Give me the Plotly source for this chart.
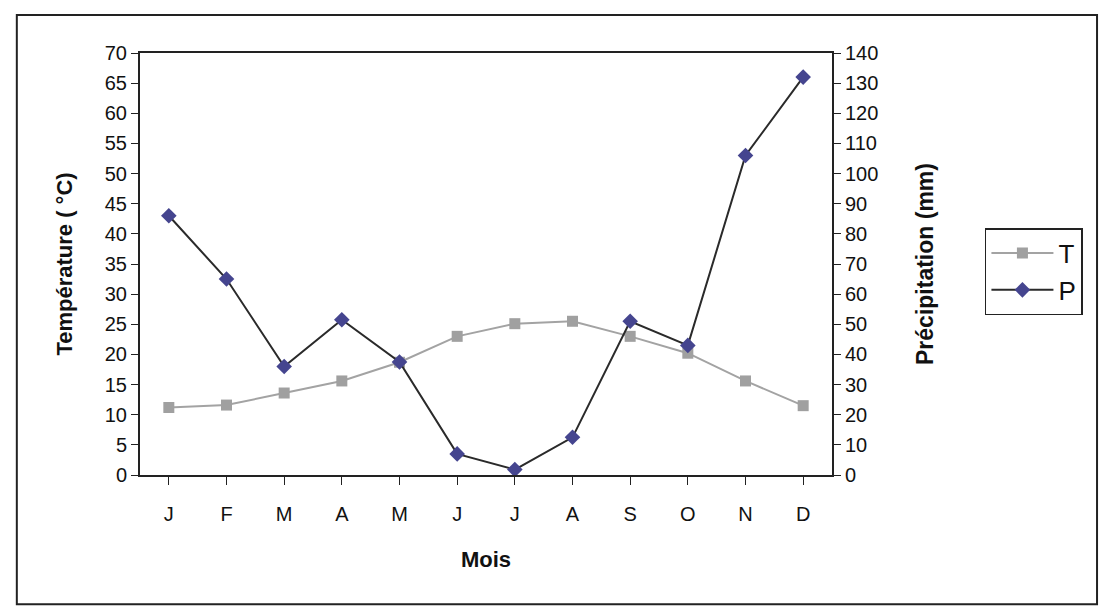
import plotly.graph_objects as go

months = ["J", "F", "M", "A", "M", "J", "J", "A", "S", "O", "N", "D"]
temperature = [11.2, 11.6, 13.6, 15.6, 18.7, 23.0, 25.1, 25.5, 23.0, 20.2, 15.6, 11.5]
precipitation = [86, 65, 36, 51.5, 37.5, 7, 1.8, 12.5, 51, 43, 106, 132]

x_idx = list(range(len(months)))

fig = go.Figure()
fig.add_trace(go.Scatter(
    x=x_idx, y=temperature, name="T", mode="lines+markers",
    line=dict(color="#a3a3a3", width=2),
    marker=dict(symbol="square", size=11, color="#a0a0a0"),
    yaxis="y",
))
fig.add_trace(go.Scatter(
    x=x_idx, y=precipitation, name="P", mode="lines+markers",
    line=dict(color="#2a2a2a", width=2),
    marker=dict(symbol="diamond", size=12, color="#45458f"),
    yaxis="y2",
))

font_family = "Liberation Sans, Arial, sans-serif"

fig.update_layout(
    width=1106, height=615,
    margin=dict(l=140, r=274, t=53, b=140),
    paper_bgcolor="white", plot_bgcolor="white",
    font=dict(family=font_family, size=19, color="#111"),
    showlegend=True,
    legend=dict(
        x=1.221, y=0.585, xanchor="left", yanchor="top",
        bordercolor="#222", borderwidth=1.5, bgcolor="white",
        font=dict(size=26), itemwidth=62,
    ),
    xaxis=dict(
        tickmode="array", tickvals=x_idx, ticktext=months,
        range=[-0.5, 11.5], tickson="boundaries",
        ticks="outside", ticklen=8, tickcolor="#222",
        showline=True, linecolor="#222", linewidth=2, mirror=True,
        showgrid=False, zeroline=False,
        tickfont=dict(size=20), ticklabelstandoff=12,
        title=dict(text="<b>Mois</b>", font=dict(size=22), standoff=28),
    ),
    yaxis=dict(
        range=[0, 70], dtick=5, ticks="outside", ticklen=7, tickcolor="#222",
        showline=True, linecolor="#222", linewidth=2,
        showgrid=False, zeroline=False,
        tickfont=dict(size=20),
        title=dict(text="<b>Température ( °C)</b>", font=dict(size=22), standoff=26),
    ),
    yaxis2=dict(
        range=[0, 140], dtick=10, overlaying="y", side="right",
        ticks="outside", ticklen=7, tickcolor="#222",
        showline=True, linecolor="#222", linewidth=2,
        showgrid=False, zeroline=False,
        tickfont=dict(size=20),
        title=dict(text="<b>Précipitation (mm)</b>", font=dict(size=23), standoff=40),
    ),
    shapes=[dict(
        type="rect", xref="paper", yref="paper",
        x0=-0.178, x1=1.383, y0=-0.306, y1=1.09,
        line=dict(color="#222", width=2), fillcolor="rgba(0,0,0,0)", layer="below",
    )],
)

fig.write_html("out.html")
